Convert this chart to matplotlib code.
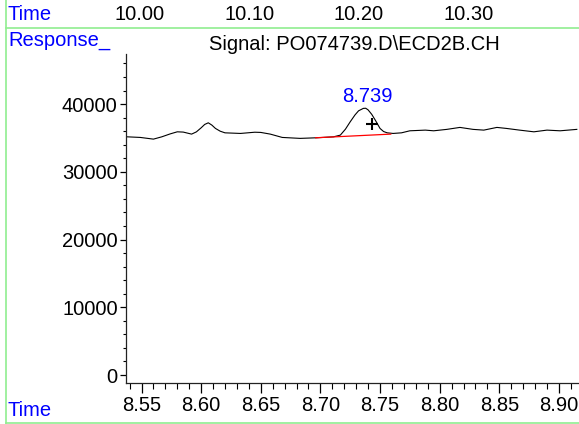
import matplotlib
matplotlib.use("Agg")
import matplotlib.pyplot as plt
from matplotlib.ticker import MultipleLocator
from matplotlib.lines import Line2D

plt.rcParams['font.family'] = ['Liberation Sans', 'DejaVu Sans']

# Signal trace (time in min, response)
time = [8.538, 8.549, 8.560, 8.567, 8.574, 8.580, 8.585, 8.592, 8.596, 8.600,
        8.603, 8.606, 8.609, 8.612, 8.616, 8.620, 8.633, 8.645, 8.650, 8.658,
        8.668, 8.683, 8.697, 8.711, 8.7167, 8.721, 8.725, 8.729, 8.732, 8.736,
        8.738, 8.740, 8.743, 8.746, 8.750, 8.753, 8.756, 8.761, 8.768, 8.775,
        8.788, 8.795, 8.806, 8.817, 8.828, 8.837, 8.848, 8.856, 8.867, 8.879,
        8.890, 8.901, 8.915]
response = [35170, 35080, 34830, 35170, 35600, 35910, 35870, 35570, 35900, 36500,
            37000, 37240, 36900, 36410, 36000, 35760, 35670, 35850, 35820, 35570,
            35080, 34940, 35030, 35170, 35420, 36300, 37390, 38400, 39010, 39370,
            39390, 39150, 38500, 37640, 36410, 35950, 35760, 35670, 35760, 36060,
            36160, 36060, 36270, 36560, 36270, 36160, 36560, 36410, 36160, 35910,
            36160, 36060, 36270]

# Integration baseline (red)
base_time = [8.696, 8.759]
base_resp = [35030, 35570]

# Peak annotation
peak_rt = 8.739
peak_label = "8.739"
peak_label_y = 41180
apex_marker = (8.743, 37000)

# Axis ticks
y_ticks = [0, 10000, 20000, 30000, 40000]
x_ticks = [8.55, 8.60, 8.65, 8.70, 8.75, 8.80, 8.85, 8.90]
top_labels = ["10.00", "10.10", "10.20", "10.30"]
top_label_px = [140, 250, 358.5, 468.5]

W, H = 579, 424
fig = plt.figure(figsize=(W / 100, H / 100), dpi=100)
ax = fig.add_axes([126 / W, 1 - 383.3 / H, (578 - 126) / W, (383.3 - 54) / H])

ax.plot(time, response, color='black', lw=0.8)
ax.plot(base_time, base_resp, color='red', lw=0.9)
ax.plot([apex_marker[0]], [apex_marker[1]], marker='+', color='black',
        markersize=8, mew=1.5)
blue = '#0000ff'
ax.text(peak_rt, peak_label_y, peak_label, color=blue, fontsize=14.5,
        ha='center', va='center')

ax.set_xlim(8.537, 8.916)
ax.set_ylim(-1225, 47400)
ax.set_xticks(x_ticks)
ax.set_xticklabels([f"{v:.2f}" for v in x_ticks])
ax.set_yticks(y_ticks)
ax.set_yticklabels([str(v) for v in y_ticks])
ax.xaxis.set_minor_locator(MultipleLocator(0.01))
ax.yaxis.set_minor_locator(MultipleLocator(2000))
for s in ['top', 'right']:
    ax.spines[s].set_visible(False)
for s in ['left', 'bottom']:
    ax.spines[s].set_linewidth(0.9)
    ax.spines[s].set_color('#222222')
ax.tick_params(axis='x', which='major', length=7.5, width=0.9, labelsize=14.5, pad=2)
ax.tick_params(axis='x', which='minor', length=4, width=0.8)
ax.tick_params(axis='y', which='major', length=4, width=0.9, labelsize=14.5, pad=2)
ax.tick_params(axis='y', which='minor', length=2.5, width=0.8)

# Header / footer texts
fig.text(8 / W, 1 - 15 / H, "Time", color=blue, fontsize=14.5, ha='left', va='center')
fig.text(8 / W, 1 - 41 / H, "Response_", color=blue, fontsize=14.5, ha='left', va='center')
fig.text(8 / W, 1 - 410 / H, "Time", color=blue, fontsize=14.5, ha='left', va='center')
fig.text(354 / W, 1 - 45 / H, r"Signal: PO074739.D\ECD2B.CH", color='black',
         fontsize=14.5, ha='center', va='center')
for lab, px in zip(top_labels, top_label_px):
    fig.text(px / W, 1 - 14 / H, lab, color='black', fontsize=14.5,
             ha='center', va='center')

# Light green frame lines
green = '#90ee90'
fig.add_artist(Line2D([5.5 / W, 1], [1 - 27.5 / H, 1 - 27.5 / H], color=green, lw=1.2,
                      transform=fig.transFigure))
fig.add_artist(Line2D([5.5 / W, 5.5 / W], [0, 1], color=green, lw=1.2,
                      transform=fig.transFigure))
fig.add_artist(Line2D([5.5 / W, 1], [1 - 422.5 / H, 1 - 422.5 / H], color=green, lw=1.2,
                      transform=fig.transFigure))

fig.savefig("out.png", dpi=100)
